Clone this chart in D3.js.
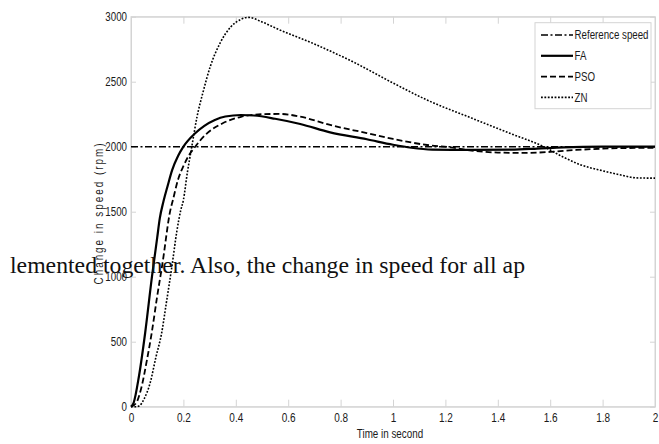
<!DOCTYPE html>
<html><head><meta charset="utf-8">
<script src="https://cdn.jsdelivr.net/npm/d3@7"></script>
<style>
html,body{margin:0;padding:0;background:#fff;}
svg{display:block;}
.lbl{font-family:"Liberation Sans",Arial,sans-serif;font-size:12px;fill:#1a1a1a;}
</style></head>
<body>
<svg id="c" width="659" height="444"></svg>
<script>
// ---- data ----
const xTicks = [0, 0.2, 0.4, 0.6, 0.8, 1, 1.2, 1.4, 1.6, 1.8, 2];
const yTicks = [0, 500, 1000, 1500, 2000, 2500, 3000];
const seriesNames = ["Reference speed", "FA", "PSO", "ZN"];
const refT = [0, 2];
const refV = [2000, 2000];
const faT = [0, 0.01, 0.03, 0.054, 0.08, 0.1, 0.11, 0.124, 0.14, 0.157, 0.18, 0.2, 0.245, 0.28, 0.32, 0.36, 0.42, 0.47, 0.55, 0.646, 0.76, 0.9, 1.0, 1.07, 1.15, 1.3, 1.45, 1.55, 1.65, 1.8, 2.0];
const faV = [0, 30, 230, 567, 1000, 1300, 1450, 1580, 1700, 1820, 1930, 2000, 2103, 2160, 2205, 2232, 2244, 2240, 2215, 2175, 2110, 2057, 2015, 1992, 1978, 1975, 1977, 1985, 1995, 2000, 2000];
const psoT = [0, 0.02, 0.04, 0.06, 0.079, 0.1, 0.12, 0.15, 0.16, 0.18, 0.2, 0.22, 0.245, 0.29, 0.35, 0.42, 0.5, 0.57, 0.646, 0.76, 0.9, 1.0, 1.13, 1.22, 1.3, 1.4, 1.5, 1.6, 1.7, 1.8, 1.9, 2.0];
const psoV = [0, 30, 150, 350, 567, 850, 1100, 1510, 1590, 1750, 1850, 1930, 2000, 2103, 2180, 2230, 2250, 2252, 2231, 2167, 2105, 2060, 2013, 1995, 1970, 1955, 1952, 1960, 1975, 1985, 1990, 1992];
const znT = [0, 0.02, 0.034, 0.05, 0.073, 0.095, 0.117, 0.135, 0.156, 0.175, 0.19, 0.2, 0.215, 0.232, 0.252, 0.275, 0.302, 0.34, 0.38, 0.42, 0.447, 0.5, 0.56, 0.7, 0.85, 1.0, 1.13, 1.3, 1.45, 1.576, 1.65, 1.717, 1.8, 1.87, 1.93, 2.0];
const znV = [0, 0, 10, 60, 182, 380, 567, 800, 1077, 1350, 1512, 1590, 1800, 2000, 2230, 2420, 2613, 2797, 2920, 2980, 2995, 2960, 2905, 2790, 2650, 2490, 2359, 2220, 2100, 2000, 1920, 1860, 1815, 1782, 1760, 1758];
const overlayText = "lemented together. Also, the change in speed for all ap";
const xTitle = "Time in second";
const yTitle = "Change in speed (rpm)";

// ---- layout ----
const L = 131, R = 655, T = 16.7, B = 406.7;
const svg = d3.select("#c");
const x = d3.scaleLinear().domain([0, 2]).range([L, R]);
const y = d3.scaleLinear().domain([0, 3000]).range([B, T]);
const boxCol = "#d4d4d4";

function narrow(sel, f) {
  sel.each(function () {
    const w = this.getComputedTextLength();
    d3.select(this).attr("textLength", w * f).attr("lengthAdjust", "spacingAndGlyphs");
  });
}

// frame
svg.append("rect").attr("x", L).attr("y", T).attr("width", R - L).attr("height", B - T)
  .attr("fill", "none").attr("stroke", boxCol).attr("stroke-width", 1);

// axes (ticks inward)
const fmtX = d => d3.format("~g")(d);
const gx = svg.append("g").attr("transform", `translate(0,${B})`)
  .call(d3.axisBottom(x).tickValues(xTicks).tickSizeInner(-7).tickSizeOuter(0).tickPadding(10).tickFormat(fmtX));
const gxt = svg.append("g").attr("transform", `translate(0,${T})`)
  .call(d3.axisTop(x).tickValues(xTicks).tickSizeInner(-7).tickSizeOuter(0).tickFormat(""));
const gy = svg.append("g").attr("transform", `translate(${L},0)`)
  .call(d3.axisLeft(y).tickValues(yTicks).tickSizeInner(-5).tickSizeOuter(0).tickPadding(9).tickFormat(d3.format("d")));
const gyr = svg.append("g").attr("transform", `translate(${R},0)`)
  .call(d3.axisRight(y).tickValues(yTicks).tickSizeInner(-5).tickSizeOuter(0).tickFormat(""));
[gx, gxt, gy, gyr].forEach(g => {
  g.select(".domain").attr("stroke", boxCol);
  g.selectAll(".tick line").attr("stroke", boxCol);
  g.selectAll(".tick text").attr("class", "lbl").attr("fill", "#1a1a1a").style("font-size", "12.5px");
});
gx.selectAll(".tick text").attr("dy", "0.45em");
gy.selectAll(".tick text").attr("x", -4);
narrow(gx.selectAll(".tick text"), 0.8);
narrow(gy.selectAll(".tick text"), 0.78);

// titles
const xt = svg.append("text").attr("class", "lbl").attr("x", 390).attr("y", 438)
  .attr("text-anchor", "middle").text(xTitle);
narrow(xt, 0.82);
const yt = svg.append("text").attr("class", "lbl")
  .attr("transform", "translate(103,213) rotate(-90)")
  .attr("text-anchor", "middle").style("letter-spacing", "2.4px").text(yTitle);
yt.attr("textLength", 143).attr("lengthAdjust", "spacingAndGlyphs");

// series
const styles = {
  "Reference speed": {w: 1.6, dash: "7,2.5,2,2.5"},
  "FA": {w: 2.2, dash: null},
  "PSO": {w: 1.8, dash: "6,3"},
  "ZN": {w: 1.6, dash: "1.8,1.6"}
};
const data = {
  "Reference speed": refT.map((t, i) => [t, refV[i]]),
  "FA": faT.map((t, i) => [t, faV[i]]),
  "PSO": psoT.map((t, i) => [t, psoV[i]]),
  "ZN": znT.map((t, i) => [t, znV[i]])
};
const line = d3.line().x(d => x(d[0])).y(d => y(d[1])).curve(d3.curveMonotoneX);
["ZN", "PSO", "FA", "Reference speed"].forEach(n => {
  svg.append("path").datum(data[n]).attr("d", line)
    .attr("fill", "none").attr("stroke", "#000")
    .attr("stroke-width", styles[n].w)
    .attr("stroke-dasharray", styles[n].dash);
});

// legend
const lg = svg.append("g");
lg.append("rect").attr("x", 535).attr("y", 22.7).attr("width", 116).attr("height", 86)
  .attr("fill", "#fff").attr("stroke", boxCol);
seriesNames.forEach((n, i) => {
  const yy = 35 + i * 20.8;
  lg.append("line").attr("x1", 541).attr("x2", 573).attr("y1", yy).attr("y2", yy)
    .attr("stroke", "#000").attr("stroke-width", styles[n].w).attr("stroke-dasharray", styles[n].dash);
  const tx = lg.append("text").attr("class", "lbl").attr("x", 574.5).attr("y", yy).attr("dy", "0.36em").text(n);
  narrow(tx, 0.81);
});

// overlaid paper text
const ot = svg.append("text").attr("x", 10).attr("y", 273)
  .style("font-family", "'Liberation Serif','DejaVu Serif',serif")
  .style("font-size", "24px").attr("fill", "#111").text(overlayText);
ot.attr("textLength", 515).attr("lengthAdjust", "spacingAndGlyphs");
</script>
</body></html>
